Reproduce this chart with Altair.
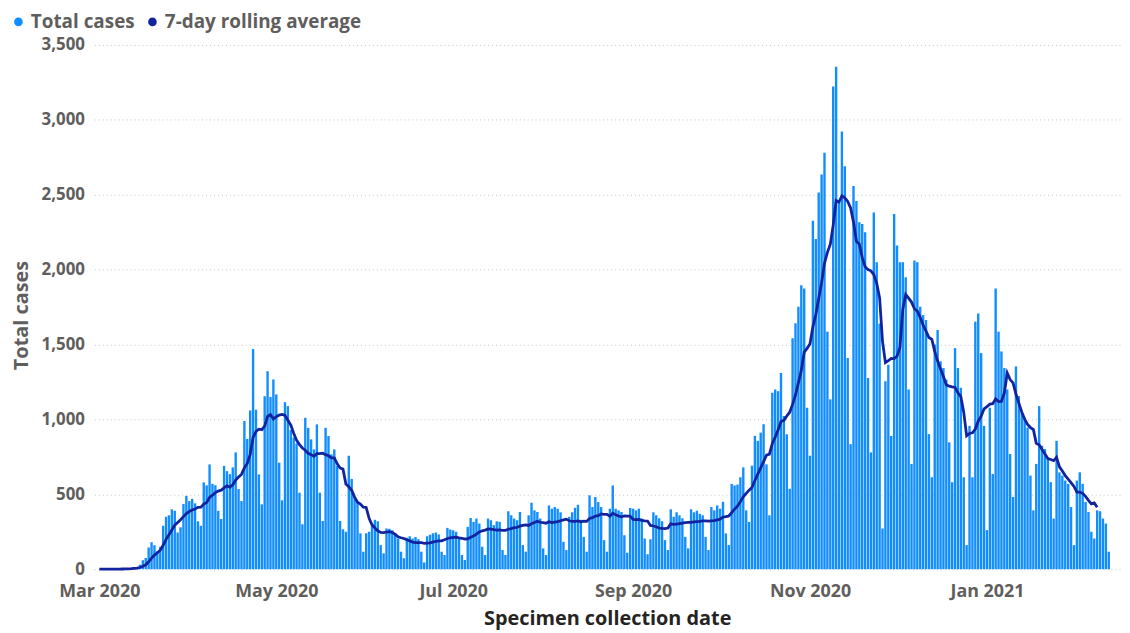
import altair as alt
import pandas as pd

START_DATE = "2020-03-01"
AVG_END = "2021-02-08T00:00:00"

# daily total cases, Mar 1 2020 (Sunday) onward
cases = [
    0, 0, 0, 1, 1, 2, 1,
    2, 3, 5, 6, 9, 14, 12,
    30, 60, 75, 145, 180, 160, 120,
    150, 290, 350, 360, 400, 390, 245,
    280, 435, 490, 455, 470, 440, 320,
    290, 580, 560, 700, 570, 560, 390,
    335, 690, 655, 635, 680, 780, 535,
    455, 990, 870, 1060, 1470, 1065, 633,
    433, 1155, 1322, 1150, 1267, 1167, 711,
    460, 1115, 1089, 930, 880, 840, 511,
    300, 1011, 944, 867, 800, 967, 511,
    322, 944, 889, 767, 800, 689, 322,
    267, 250, 758, 603, 480, 450, 239,
    117, 240, 250, 300, 330, 320, 161,
    106, 272, 270, 260, 240, 205, 117,
    73, 210, 220, 205, 215, 200, 117,
    45, 220, 230, 240, 245, 232, 117,
    95, 276, 265, 260, 250, 205, 95,
    62, 283, 342, 316, 338, 305, 150,
    95, 338, 327, 294, 320, 316, 128,
    95, 387, 360, 338, 327, 382, 161,
    117, 360, 444, 393, 382, 338, 139,
    95, 426, 404, 415, 404, 380, 183,
    128, 350, 380, 410, 430, 330, 216,
    117, 493, 415, 482, 448, 415, 194,
    117, 404, 559, 404, 393, 382, 227,
    110, 409, 404, 393, 404, 338, 205,
    100, 200, 380, 360, 340, 320, 194,
    128, 400, 350, 380, 360, 340, 216,
    139, 400, 380, 390, 370, 360, 216,
    128, 415, 393, 426, 404, 450, 239,
    161, 570, 559, 565, 614, 680, 393,
    316, 691, 890, 857, 912, 968, 700,
    360, 1178, 1200, 1189, 1310, 1023, 901,
    537, 1542, 1642, 1752, 1896, 1874, 1078,
    758, 2327, 2205, 2515, 2636, 2780, 1586,
    1134, 3222, 3354, 2450, 2923, 2691, 1410,
    835, 2559, 2459, 2316, 2305, 2249, 1277,
    780, 2382, 2050, 1640, 272, 1255, 1365,
    890, 2371, 2161, 2050, 2050, 1950, 1200,
    703, 2061, 2050, 1752, 1697, 1664, 902,
    614, 1500, 1597, 1388, 1343, 1266, 847,
    581, 1476, 1343, 1211, 614, 161, 957,
    614, 1653, 1708, 1443, 957, 261, 1078,
    636, 1874, 1586, 1454, 1343, 1200, 769,
    482, 1354, 1156, 1045, 1012, 946, 625,
    393, 703, 1089, 824, 802, 736, 581,
    338, 857, 647, 625, 592, 570, 415,
    161, 592, 647, 570, 449, 382, 250,
    205, 393, 387, 338, 305, 117,
]

series_names = ["Total cases", "7-day rolling average"]
series_colors = ["#118DFF", "#12239E"]
y_ticks = [0, 500, 1000, 1500, 2000, 2500, 3000, 3500]
x_ticks = ["2020-03-01T00:00:00", "2020-05-01T00:00:00", "2020-07-01T00:00:00",
           "2020-09-01T00:00:00", "2020-11-01T00:00:00", "2021-01-01T00:00:00"]
x_domain = ["2020-03-01T00:00:00", "2021-02-14T04:00:00"]

dates = pd.date_range(START_DATE, periods=len(cases), freq="D")
df = pd.DataFrame({"date": dates.strftime("%Y-%m-%dT%H:%M:%S"), "cases": cases})

FONT = "Open Sans"
GREY = "#605e5c"

x_enc = alt.X(
    "date:T",
    scale=alt.Scale(domain=x_domain),
    axis=alt.Axis(
        values=x_ticks, format="%b %Y", title="Specimen collection date",
        grid=False, domain=False, ticks=False, tickSize=0, labelPadding=13,
        labelFontSize=18, labelFontWeight="bold", labelColor=GREY,
        titleFontSize=20, titleFontWeight="bold", titleColor="#252423",
        titlePadding=9, labelFlush=False,
    ),
)

y_enc = alt.Y(
    "cases:Q",
    scale=alt.Scale(domain=[0, 3500], nice=False),
    axis=alt.Axis(
        values=y_ticks, format=",.0f", title="Total cases",
        grid=True, gridDash=[1, 3], gridColor="#c8c6c4", gridWidth=1,
        domain=False, ticks=False, tickSize=0, labelPadding=10,
        labelFontSize=17, labelFontWeight="bold", labelColor=GREY,
        titleFontSize=20, titleFontWeight="bold", titleColor=GREY,
        titleX=-83, titleY=272, titleAlign="center", titleBaseline="top",
        titleAngle=270,
    ),
)

bars = (
    alt.Chart(df)
    .transform_calculate(series="'Total cases'")
    .mark_bar(width=2.4)
    .encode(
        x=x_enc,
        y=y_enc,
        color=alt.Color(
            "series:N",
            scale=alt.Scale(domain=series_names, range=series_colors),
            legend=alt.Legend(
                title=None, orient="none", direction="horizontal",
                legendX=-86, legendY=-33, symbolType="circle", symbolSize=75,
                labelFontSize=19, labelFontWeight="bold", labelColor=GREY,
                labelFont=FONT, columnPadding=8, labelOffset=3, padding=0,
                symbolStrokeWidth=0, labelLimit=400,
            ),
        ),
    )
)

line = (
    alt.Chart(df)
    .transform_window(avg="mean(cases)", frame=[-6, 0], sort=[{"field": "date"}])
    .transform_filter(f"datum.date <= toDate('{AVG_END}')")
    .mark_line(color="#12239E", strokeWidth=2.8)
    .encode(x="date:T", y="avg:Q")
)

chart = (
    alt.layer(bars, line)
    .properties(
        width=1033, height=528,
        autosize=alt.AutoSizeParams(type="none"),
        padding={"left": 87, "top": 35, "right": 2, "bottom": 62},
    )
    .configure(font=FONT)
    .configure_view(stroke=None)
    .configure_axis(labelFont=FONT, titleFont=FONT)
)

chart.save("out.html", embed_options={"renderer": "svg", "actions": False})
